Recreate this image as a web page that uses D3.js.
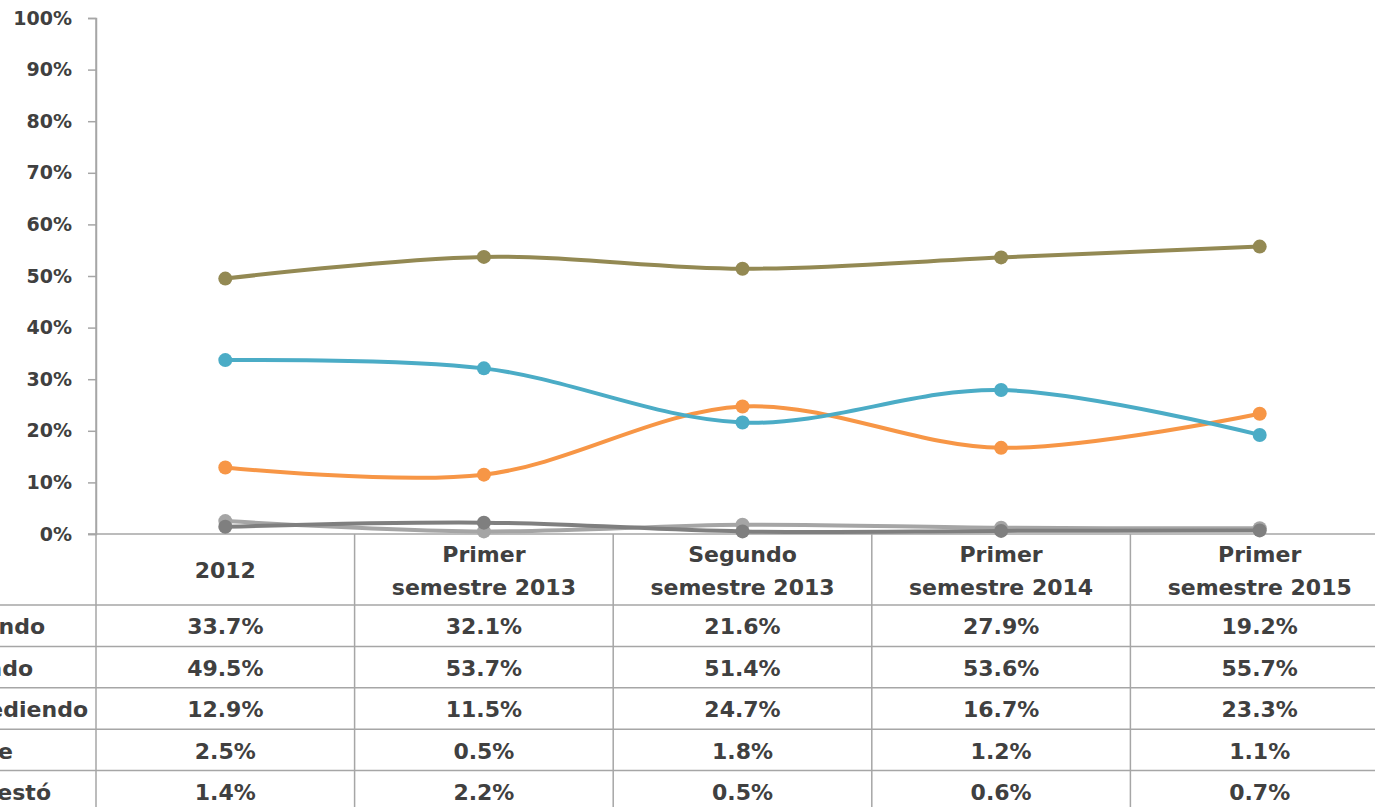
<!DOCTYPE html>
<html><head><meta charset="utf-8">
<script src="https://cdn.jsdelivr.net/npm/d3@7"></script>
<style>
html,body{margin:0;padding:0;background:#fff;overflow:hidden}
text{font-family:"DejaVu Sans",sans-serif;font-weight:bold;fill:#404040}
</style></head><body>
<svg id="c" width="1375" height="807"></svg>
<script>
const categories = [["2012"],["Primer","semestre 2013"],["Segundo","semestre 2013"],["Primer","semestre 2014"],["Primer","semestre 2015"]];
const seriesNames = ["Avanzando","Estancado","Retrocediendo","No sabe","No contestó"];
const avanzando = [33.7,32.1,21.6,27.9,19.2];
const estancado = [49.5,53.7,51.4,53.6,55.7];
const retrocediendo = [12.9,11.5,24.7,16.7,23.3];
const noSabe = [2.5,0.5,1.8,1.2,1.1];
const noContesto = [1.4,2.2,0.5,0.6,0.7];
const yTicks = [0,10,20,30,40,50,60,70,80,90,100];
const colors = ["#4bacc6","#938953","#f79646","#a5a5a5","#7f7f7f"];
const series = [avanzando,estancado,retrocediendo,noSabe,noContesto];
// layout: right end of each (left-clipped) row label
const labelEnds = [45,33,88,13,51];

(function(){
const svg = d3.select("#c");
const mLeft = 96, colW = 258.6, mTop = 18, mBottom = 534;
const x = d3.scaleBand().domain(d3.range(categories.length)).range([mLeft, mLeft + colW*categories.length]);
const y = d3.scaleLinear().domain([0,100]).range([mBottom, mTop]);
const gridColor = "#a6a6a6";

const yAxis = d3.axisLeft(y).tickValues(yTicks).tickFormat(d => d + "%").tickSize(8).tickPadding(16);
const ga = svg.append("g").attr("transform",`translate(${mLeft},0)`).call(yAxis);
ga.select(".domain").attr("stroke",gridColor).attr("stroke-width",1.5);
ga.selectAll(".tick line").attr("stroke",gridColor).attr("stroke-width",1.5);
ga.selectAll(".tick text").style("font-size","19px").style("font-family","DejaVu Sans").attr("fill","#404040");

const headerBottom = 605;
const rowH = 41.4;
const tableBottom = headerBottom + rowH*series.length;

svg.append("line").attr("x1",mLeft-8).attr("x2",1375).attr("y1",mBottom).attr("y2",mBottom).attr("stroke",gridColor).attr("stroke-width",1.5);
const bounds = d3.range(categories.length+1).map(i => mLeft + i*colW);
svg.selectAll(".vl").data(bounds).join("line")
  .attr("x1",d=>d).attr("x2",d=>d).attr("y1",d=> d===mLeft?mTop:mBottom).attr("y2",tableBottom)
  .attr("stroke",gridColor).attr("stroke-width",1.5);
svg.selectAll(".hl").data(d3.range(series.length+1)).join("line")
  .attr("x1",0).attr("x2",1375).attr("y1",i=>headerBottom+i*rowH).attr("y2",i=>headerBottom+i*rowH)
  .attr("stroke",gridColor).attr("stroke-width",1.5);

categories.forEach((lines,i) => {
  const cx = x(i) + x.bandwidth()/2;
  const cy = (mBottom + headerBottom)/2 + 1;
  const t = svg.append("text").attr("text-anchor","middle").style("font-size","22px");
  lines.forEach((l,j) => {
    t.append("tspan").attr("x",cx).attr("y", cy + (j - (lines.length-1)/2)*33).attr("dy","0.35em").text(l);
  });
});

seriesNames.forEach((n,i) => {
  const cy = headerBottom + i*rowH + rowH/2 + 1;
  svg.append("text").attr("x", labelEnds[i]).attr("y", cy).attr("dy","0.35em")
    .attr("text-anchor","end").style("font-size","22px").text(n);
  series[i].forEach((v,j) => {
    svg.append("text").attr("x", x(j)+x.bandwidth()/2).attr("y", cy).attr("dy","0.35em")
      .attr("text-anchor","middle").style("font-size","22px").text(v.toFixed(1)+"%");
  });
});

const line = d3.line().x((d,i)=>x(i)+x.bandwidth()/2).y(d=>y(d)).curve(d3.curveCatmullRom.alpha(0.5));
const order = [3,4,2,0,1];
order.forEach(si => {
  svg.append("path").datum(series[si]).attr("d",line).attr("fill","none").attr("stroke",colors[si]).attr("stroke-width",4);
  svg.selectAll(null).data(series[si]).join("circle")
    .attr("cx",(d,i)=>x(i)+x.bandwidth()/2).attr("cy",d=>y(d)).attr("r",7).attr("fill",colors[si]);
});
})();
</script></body></html>
